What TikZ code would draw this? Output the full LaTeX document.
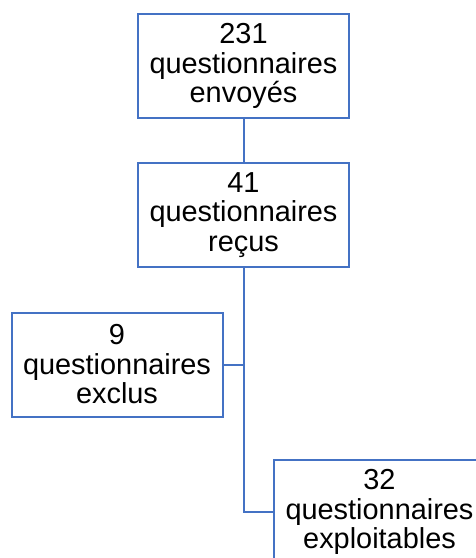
\documentclass[tikz,border=0pt]{standalone}
\usepackage{fontspec}
\setmainfont{Liberation Sans}
\usepackage{xcolor}
\usetikzlibrary{positioning,calc}
\definecolor{boxblue}{HTML}{4472C4}

\begin{document}
\begin{tikzpicture}[x=0.5pt, y=-0.5pt,
        qbox/.style={rectangle, draw=boxblue, line width=1pt, fill=white, minimum width=105.5pt, minimum height=52pt, inner sep=0pt, align=center, font=\fontsize{14.45}{14.75}\selectfont},
        link/.style={draw=boxblue, line width=1pt}]
        \useasboundingbox (0,0) rectangle (476,558);

        % Nodes
        \node[qbox] (Envoyes) at (243.5,66) {231\\questionnaires\\envoyés};
        \node[qbox] (Recus) at (243.5,215) {41\\questionnaires\\reçus};
        \node[qbox] (Exclus) at (117,364.5) {9\\questionnaires\\exclus};
        \node[qbox] (Exploit) at (379.5,512) {32\\questionnaires\\exploitables};

        % Edges
        \draw[link] (Envoyes) -- (Recus);
        \draw[link] (Recus.south) |- (Exploit.west);
        \draw[link] (Exclus.east) -- (Exclus.east -| Recus.south);
    \end{tikzpicture}
\end{document}
